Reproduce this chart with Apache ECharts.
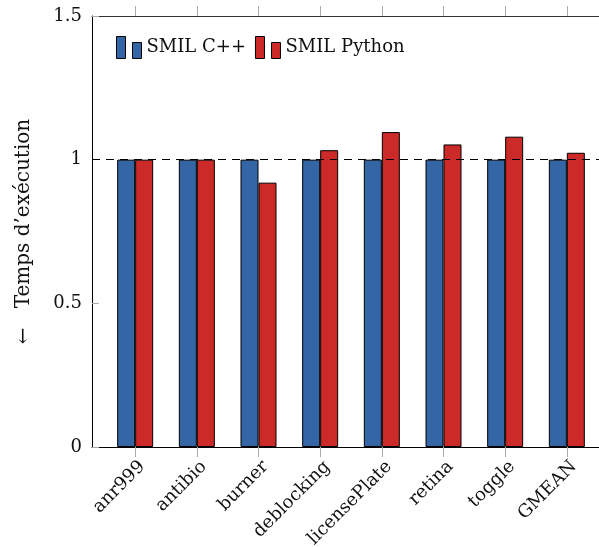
<!DOCTYPE html>
<html>
<head>
<meta charset="utf-8">
<script src="https://cdn.jsdelivr.net/npm/echarts@6/dist/echarts.min.js"></script>
<style>html,body{margin:0;padding:0;background:#fff}#c{width:599px;height:547px}</style>
</head>
<body>
<div id="c"></div>
<script>
const categories = ['anr999','antibio','burner','deblocking','licensePlate','retina','toggle','GMEAN'];
const smilCpp = [1, 1, 1, 1, 1, 1, 1, 1];
const smilPython = [1.0, 1.0, 0.92, 1.033, 1.096, 1.053, 1.080, 1.024];
const yTicks = [0, 0.5, 1, 1.5];

const FONT = 'DejaVu Serif';
const idx = categories.map((_, i) => i);
const chart = echarts.init(document.getElementById('c'), null, {renderer: 'canvas'});
const legendIcon = 'path://M0,0h9v22h-9Z M16,6h9v16h-9Z';
chart.setOption({
  animation: false,
  backgroundColor: '#fff',
  grid: {left: 92, top: 16, right: -11, bottom: 100, containLabel: false, outerBoundsMode: 'none'},
  legend: {
    left: 116, top: 36, padding: 0, itemWidth: 25, itemHeight: 22, itemGap: 9,
    textStyle: {fontFamily: FONT, fontSize: 18, color: '#111'},
    data: [
      {name: 'SMIL C++', icon: legendIcon},
      {name: 'SMIL Python', icon: legendIcon}
    ],
    itemStyle: {borderColor: '#000', borderWidth: 1}
  },
  xAxis: [{
    type: 'value', min: -0.7, max: 7.7, position: 'bottom',
    splitLine: {show: false},
    axisLine: {show: true, onZero: false, lineStyle: {color: '#000', width: 1}},
    axisTick: {show: true, customValues: idx, length: 10, inside: false, lineStyle: {color: '#aaa', width: 1}},
    axisLabel: {
      customValues: idx, rotate: 45, margin: 24, padding: [0, -10, 0, 0],
      fontFamily: FONT, fontSize: 18, color: '#111',
      formatter: v => categories[Math.round(v)]
    }
  }, {
    type: 'value', min: -0.7, max: 7.7, position: 'top',
    splitLine: {show: false},
    axisLine: {show: true, onZero: false, lineStyle: {color: '#333', width: 1}},
    axisTick: {show: true, customValues: idx, length: 10, inside: false, lineStyle: {color: '#aaa', width: 1}},
    axisLabel: {show: false}
  }],
  yAxis: {
    type: 'value', min: 0, max: 1.5, interval: 0.5,
    name: '←   Temps d’exécution', nameLocation: 'middle', nameGap: 58, nameRotate: 90,
    nameTextStyle: {fontFamily: FONT, fontSize: 20, color: '#111'},
    splitLine: {show: false},
    axisLine: {show: true, onZero: false, lineStyle: {color: '#000', width: 1}},
    axisTick: {show: true, inside: true, length: 7, lineStyle: {color: '#aaa'}},
    axisLabel: {
      customValues: yTicks, margin: 10,
      fontFamily: FONT, fontSize: 18, color: '#111',
      formatter: v => String(v)
    }
  },
  series: [{
    name: 'SMIL C++', type: 'bar', barWidth: 18, barGap: '0%',
    itemStyle: {color: '#3465a4', borderColor: '#000', borderWidth: 1},
    data: smilCpp.map((v, i) => [i, v])
  }, {
    name: 'SMIL Python', type: 'bar', barWidth: 18, barGap: '0%',
    itemStyle: {color: '#cc2929', borderColor: '#000', borderWidth: 1},
    data: smilPython.map((v, i) => [i, v]),
    markLine: {
      silent: true, symbol: 'none', label: {show: false}, z: 10,
      lineStyle: {color: '#000', type: [8, 6], width: 1},
      data: [{yAxis: 1}]
    }
  }]
});
</script>
</body>
</html>
